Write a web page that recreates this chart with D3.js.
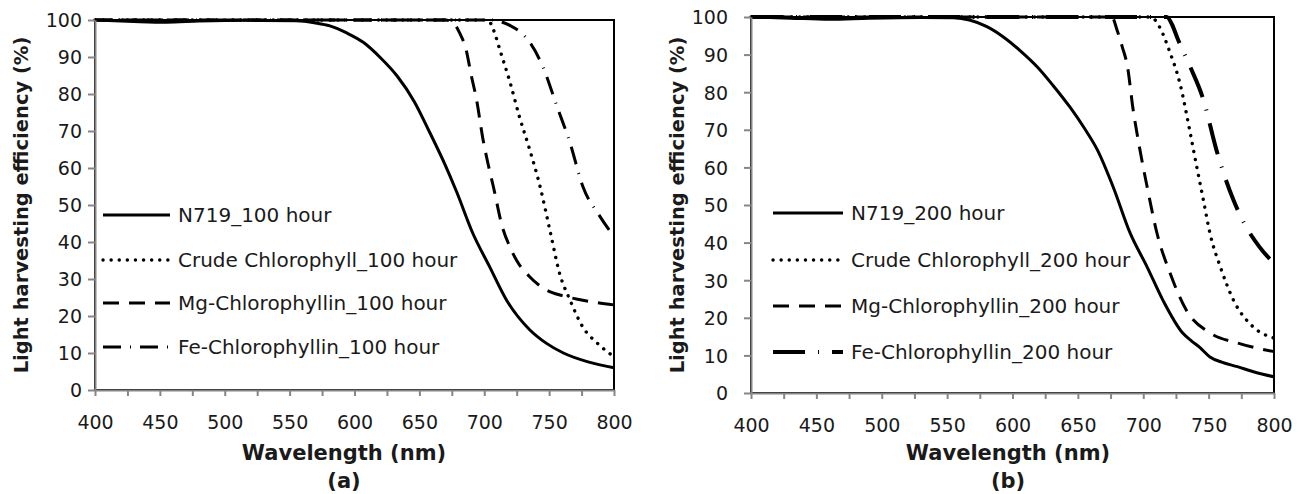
<!DOCTYPE html>
<html>
<head>
<meta charset="utf-8">
<script src="https://cdn.jsdelivr.net/npm/d3@7"></script>
<style>
  body { margin: 0; background: #fff; }
  svg text { font-family: "Century Gothic", "DejaVu Sans", sans-serif; fill: #1a1a1a; }
</style>
</head>
<body>
<div id="chart"></div>
<script>
// Wavelength ticks and value ticks shared by both panels.
const xTicks = d3.range(400, 801, 25);
const yTicks = d3.range(0, 101, 10);

// Panel (a): 100 hour series, [wavelength, efficiency].
const n719_100 = [[400,100],[430,99.6],[455,99.4],[480,99.7],[520,99.9],[555,99.8],[570,99.2],[581,98.4],[594,96.5],[607,93.9],[620,89.8],[633,84.8],[646,78],[658,69.6],[669,61.5],[679,53.3],[691,42.5],[704,33.4],[717,24.4],[735,16.3],[748,12.6],[761,10],[780,7.6],[800,6]];
const crude_100 = [[400,100],[600,100],[700,100],[704,99.5],[708,96.5],[712,92],[720,83],[727,74],[735,65],[743,55],[751,42.5],[758,31.6],[766,24.4],[776,17],[787,12.7],[800,9]];
const mg_100 = [[400,100],[600,100],[670,100],[676,99.3],[681,96.5],[686,92],[690,85],[694,78.6],[699,67.8],[703,61],[707,55],[714,44],[720,38.5],[725,35],[735,30.6],[748,27],[760,25.5],[774,24.4],[800,23]];
const fe_100 = [[400,100],[600,100],[706,100],[714,99.4],[721,98.3],[728,96.7],[735,94],[745,87.5],[756,76.7],[766,66.9],[776,55],[789,47],[800,41.5]];

// Panel (b): 200 hour series.
const n719_200 = [[400,100],[430,99.7],[460,99.4],[490,99.7],[530,99.9],[555,99.8],[567,99.2],[580,97.5],[593,94.7],[606,91],[619,86.7],[631,81.8],[644,76],[655,70.4],[665,64.6],[677,54.8],[690,42.5],[703,33.5],[715,24.7],[730,16],[737,13.8],[743,12.2],[751,9.6],[760,8.2],[772,7],[785,5.6],[800,4.3]];
const crude_200 = [[400,100],[600,100],[703,100],[708,99.5],[713,97],[720,91],[728,82.4],[736,69],[741,60],[746,51.3],[751,42.5],[759,33.5],[769,24.7],[784,17.6],[800,14.6]];
const mg_200 = [[400,100],[600,100],[676,100],[680,96.5],[684,92],[688,86.7],[692,76],[697.5,64.6],[703,54.8],[710.5,42.5],[720.5,31.9],[733,22],[751,16],[772,13.3],[800,11]];
const fe_200 = [[400,100],[600,100],[718,100],[722,98],[726,94.5],[736,86.7],[746,78],[756,64.6],[769,51.3],[779,44],[789,38.8],[800,34.5]];

const labelsA = ["N719_100 hour", "Crude Chlorophyll_100 hour", "Mg-Chlorophyllin_100 hour", "Fe-Chlorophyllin_100 hour"];
const labelsB = ["N719_200 hour", "Crude Chlorophyll_200 hour", "Mg-Chlorophyllin_200 hour", "Fe-Chlorophyllin_200 hour"];

const svg = d3.select("#chart")
  .append("svg")
  .attr("width", 1301)
  .attr("height", 494);

// Line styles: solid, round dots, dashes, dash-dot.
const stylesA = [
  { dash: null, width: 3 },
  { dash: "0.1,8", width: 3.4, cap: "round" },
  { dash: "16,10", width: 3 },
  { dash: "18,9,1,9", width: 3 }
];
const stylesB = [
  { dash: null, width: 3 },
  { dash: "0.1,8", width: 3.4, cap: "round" },
  { dash: "16,10", width: 3 },
  { dash: "32,13,1,13", width: 4 }
];

function drawPanel(p) {
  const x = d3.scaleLinear().domain([400, 800]).range([p.left, p.right]);
  const y = d3.scaleLinear().domain([0, 100]).range([p.bottom, p.top]);
  const g = svg.append("g");

  // Plot area border.
  g.append("rect")
    .attr("x", p.left).attr("y", p.top)
    .attr("width", p.right - p.left).attr("height", p.bottom - p.top)
    .attr("fill", "none").attr("stroke", "#000").attr("stroke-width", 2);

  // Curves.
  const line = d3.line()
    .x(function(d) { return x(d[0]); })
    .y(function(d) { return y(d[1]); })
    .curve(d3.curveMonotoneX);

  p.series.forEach(function(s, i) {
    const st = p.styles[i];
    g.append("path")
      .datum(s)
      .attr("d", line)
      .attr("fill", "none")
      .attr("stroke", "#000")
      .attr("stroke-width", st.width)
      .attr("stroke-dasharray", st.dash)
      .attr("stroke-linecap", st.cap || "butt");
  });

  // X axis.
  const xAxis = g.append("g")
    .attr("transform", "translate(0," + p.bottom + ")")
    .call(d3.axisBottom(x).tickValues(xTicks).tickSize(6).tickSizeOuter(0)
      .tickFormat(function(d) { return d % 50 === 0 ? d : ""; }));
  xAxis.select(".domain").attr("stroke", "#868686").attr("stroke-width", 2);
  xAxis.selectAll(".tick line").attr("stroke", "#868686").attr("stroke-width", 2);
  xAxis.selectAll(".tick text")
    .attr("y", 0).attr("dy", 39)
    .style("font-size", "19px").attr("fill", "#1a1a1a");

  // Y axis.
  const yAxis = g.append("g")
    .attr("transform", "translate(" + p.left + ",0)")
    .call(d3.axisLeft(y).tickValues(yTicks).tickSize(7).tickSizeOuter(0));
  yAxis.select(".domain").attr("stroke", "#868686").attr("stroke-width", 2);
  yAxis.selectAll(".tick line").attr("stroke", "#868686").attr("stroke-width", 2);
  yAxis.selectAll(".tick text")
    .attr("x", -p.yLabelGap).attr("dy", "0.36em")
    .style("font-size", "19px").attr("fill", "#1a1a1a");

  // Axis titles and panel letter.
  g.append("text")
    .attr("x", p.titleX).attr("y", 460)
    .attr("text-anchor", "middle")
    .style("font-size", "21px").style("font-weight", "bold")
    .text("Wavelength (nm)");
  g.append("text")
    .attr("x", p.titleX).attr("y", 488)
    .attr("text-anchor", "middle")
    .style("font-size", "21px").style("font-weight", "bold")
    .text(p.letter);
  g.append("text")
    .attr("transform", "translate(" + p.yTitleX + ",205) rotate(-90)")
    .attr("text-anchor", "middle")
    .style("font-size", "19.5px").style("font-weight", "bold")
    .text("Light harvesting efficiency (%)");

  // Legend.
  p.labels.forEach(function(label, i) {
    const st = p.styles[i];
    const ly = p.legendY[i];
    g.append("line")
      .attr("x1", p.legendX).attr("x2", p.legendX + p.legendLen)
      .attr("y1", ly).attr("y2", ly)
      .attr("stroke", "#000")
      .attr("stroke-width", st.width)
      .attr("stroke-dasharray", st.dash)
      .attr("stroke-linecap", st.cap || "butt");
    g.append("text")
      .attr("x", p.legendX + p.legendLen + 8).attr("y", ly)
      .attr("dy", "0.36em")
      .style("font-size", "20px")
      .text(label);
  });
}

drawPanel({
  left: 95, right: 614, top: 20, bottom: 390,
  series: [n719_100, crude_100, mg_100, fe_100],
  styles: stylesA, labels: labelsA,
  legendX: 103, legendLen: 67, legendY: [215, 260, 303, 347],
  titleX: 344, yTitleX: 28, yLabelGap: 13, letter: "(a)"
});

drawPanel({
  left: 751, right: 1274, top: 17, bottom: 393,
  series: [n719_200, crude_200, mg_200, fe_200],
  styles: stylesB, labels: labelsB,
  legendX: 773, legendLen: 70, legendY: [213, 260, 306, 352],
  titleX: 1008, yTitleX: 684, yLabelGap: 23, letter: "(b)"
});
</script>
</body>
</html>
